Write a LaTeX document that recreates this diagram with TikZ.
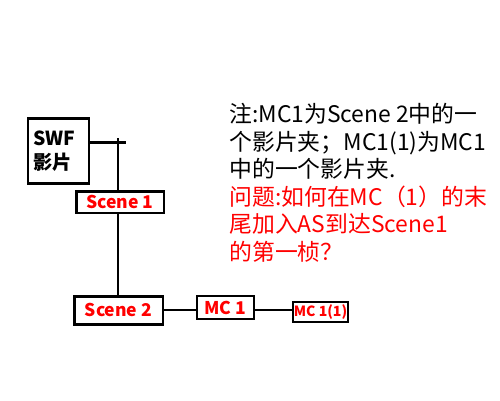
\documentclass[tikz,border=0pt]{standalone}
\usepackage{fontspec}
\setmainfont{Noto Sans CJK SC}
\usetikzlibrary{positioning}

\begin{document}
\begin{tikzpicture}[%
        x = 0.02cm, y = -0.02cm,
        box/.style = {%
            draw, fill = white, line width = 1.7pt,
            inner sep = 0pt, text = red,
            font = \fontsize{10}{12}\selectfont\bfseries
        },
        link/.style = {line width = 1.7pt},
        note/.style = {%
            anchor = north west, inner sep = 0pt, align = left,
            font = \fontsize{13}{15.7}\selectfont
        }
    ]

        % Fix the page to the size of the reference.
        \path[use as bounding box] (0, 0) rectangle (500, 400);

        % The movie and its scenes.
        \node[box, text = black, line width = 1.6pt, align = left,
              text width = 1.0cm,
              minimum width = 1.22cm, minimum height = 1.3cm,
              font = \fontsize{11}{14}\selectfont\bfseries]
            (swf) at (58.5, 151) {SWF\\影片};
        \node[box, minimum width = 1.76cm, minimum height = 0.44cm]
            (scene1) at (120, 202) {Scene 1};
        \node[box, minimum width = 1.78cm, minimum height = 0.56cm]
            (scene2) at (118.5, 310) {Scene 2};

        % The movie clips.
        \node[box, line width = 1.2pt, minimum width = 1.14cm, minimum height = 0.46cm]
            (mc1) at (225.5, 307.5) {MC 1};
        \node[box, line width = 1.4pt, minimum width = 1.1cm, minimum height = 0.4cm,
              font = \fontsize{8}{10}\selectfont\bfseries]
            (mc11) at (320.5, 312) {MC 1(1)};

        % The trunk joining the movie to its scenes.
        \coordinate (top) at (118, 138);
        \coordinate (hub) at (126, 142);
        \draw[link] (swf.east |- hub) -- (hub);
        \draw[link] (top) -- (top |- scene1.north);
        \draw[link] (top |- scene1.south) -- (top |- scene2.north);

        % Scene 2 holds the clips.
        \draw[link, line width = 1.2pt] (scene2.east) -- (scene2.east -| mc1.west);
        \draw[link, line width = 1.2pt] (mc1.east |- scene2.east) -- (scene2.east -| mc11.west);

        % The note and the question.
        \node[note] (text) at (229, 103) {%
            注:MC1为Scene 2中的一\\
            个影片夹；MC1(1)为MC1\\
            中的一个影片夹.\\
            \textcolor{red}{问题:如何在MC（1）的末}\\
            \textcolor{red}{尾加入AS到达Scene1}\\
            \textcolor{red}{的第一桢？}};
    \end{tikzpicture}
\end{document}
